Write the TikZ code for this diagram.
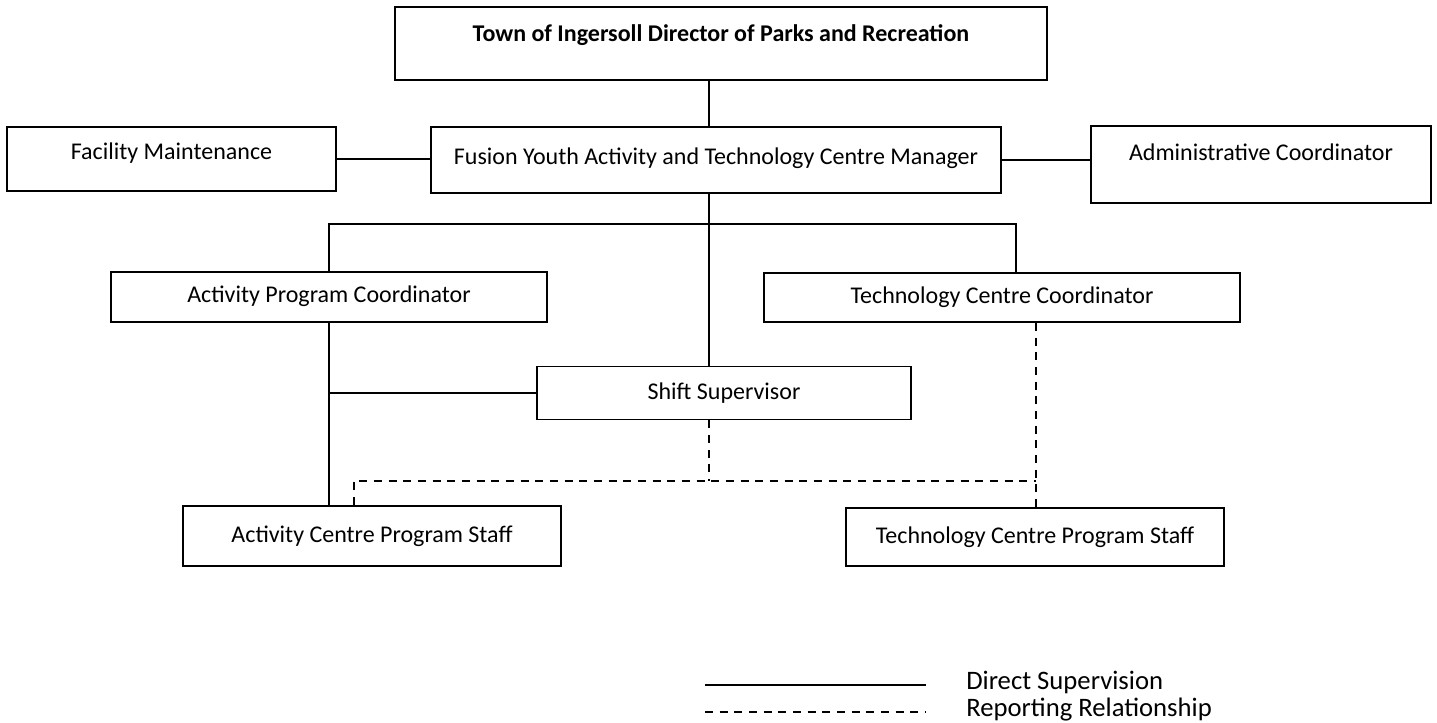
\documentclass[tikz,border=0pt]{standalone}
\usepackage{fontspec}
\setmainfont{Carlito}
\usetikzlibrary{positioning, calc}
\tikzset{
	orgbox/.style={rectangle, draw=black, line width=1.4pt, inner sep=0pt, align=center,
		text height=13pt, text depth=4pt, font=\fontsize{18}{21}\selectfont},
	direct/.style={line width=1.2pt},
	report/.style={line width=1.2pt, dash pattern=on 6pt off 5pt},
	legendtext/.style={font=\fontsize{20}{23}\selectfont, anchor=base west, inner sep=0pt,
		text height=11pt, text depth=3pt},
}
\begin{document}
\begin{tikzpicture}[x=0.75pt, y=-0.75pt]
	\useasboundingbox (0,0) rectangle (1437,723);
	% boxes
	\node[orgbox, minimum width=489pt, minimum height=54.75pt, text depth=16pt] (dir) at (721,43.5)
		{\textbf{Town of Ingersoll Director of Parks and Recreation}};
	\node[orgbox, minimum width=246.75pt, minimum height=48pt, text depth=12pt] (fac) at (171.5,159) {Facility Maintenance};
	\node[orgbox, minimum width=427.5pt, minimum height=49.5pt, text depth=6pt] (mgr) at (716,160)
		{Fusion Youth Activity and Technology Centre Manager};
	\node[orgbox, minimum width=255pt, minimum height=57.75pt, text depth=19pt] (adm) at (1261,164.5) {Administrative Coordinator};
	\node[orgbox, minimum width=327pt, minimum height=37.5pt] (apc) at (329,297) {Activity Program Coordinator};
	\node[orgbox, minimum width=357pt, minimum height=36.75pt] (tcc) at (1002,297.5) {Technology Centre Coordinator};
	\node[orgbox, minimum width=280.5pt, minimum height=39.75pt] (shf) at (724,393) {Shift Supervisor};
	\node[orgbox, minimum width=283.5pt, minimum height=45pt] (acs) at (372,536) {Activity Centre Program Staff};
	\node[orgbox, minimum width=283.5pt, minimum height=43.5pt] (tcs) at (1035,537) {Technology Centre Program Staff};
	% spine and bus
	\coordinate (spine) at (709,224);
	\coordinate (busR) at (1016,224);
	\coordinate (repL) at (354,481);
	\coordinate (repR) at (1036,481);
	% direct supervision
	\draw[direct] (dir.south -| spine) -- (mgr.north -| spine);
	\draw[direct] (fac.east) -- (fac.east -| mgr.west);
	\draw[direct] (mgr.east) -- (mgr.east -| adm.west);
	\draw[direct] (mgr.south -| spine) -- (shf.north -| spine);
	\draw[direct] (apc.north) |- (spine) -| (tcc.north -| busR);
	\draw[direct] (apc.south) -- (acs.north -| apc.south);
	\draw[direct] (apc.south |- shf.west) -- (shf.west);
	% reporting relationship
	\draw[report] (shf.south -| spine) -- (spine |- repL);
	\draw[report] (acs.north -| repL) -- (repL) -- (repR);
	\draw[report] (tcc.south -| repR) -- (tcs.north -| repR);
	% legend
	\coordinate (lgA) at (705,685);
	\coordinate (lgB) at (705,712);
	\node[legendtext] (lgdirect) at (966,689) {Direct Supervision};
	\node[legendtext] (lgreport) at (966,716) {Reporting Relationship};
	\draw[direct] (lgA) -- ++(221,0);
	\draw[report] (lgB) -- ++(221,0);
\end{tikzpicture}
\end{document}
